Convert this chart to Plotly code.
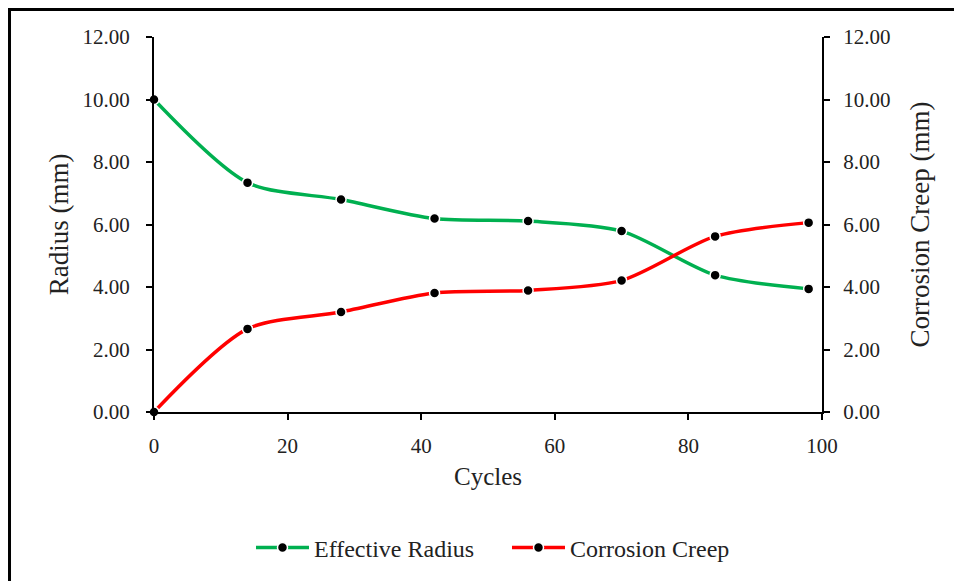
import plotly.graph_objects as go

cycles = [0, 14, 28, 42, 56, 70, 84, 98]
effective_radius = [10.0, 7.34, 6.80, 6.19, 6.11, 5.79, 4.38, 3.94]
corrosion_creep = [0.0, 2.66, 3.20, 3.81, 3.89, 4.21, 5.62, 6.06]
y_ticks = [0, 2, 4, 6, 8, 10, 12]
x_ticks = [0, 20, 40, 60, 80, 100]

FONT = "Liberation Serif, Times New Roman, serif"
GREEN = "#00B050"
RED = "#FF0000"

fig = go.Figure()
fig.add_trace(go.Scatter(
    x=cycles, y=effective_radius, name="Effective Radius",
    mode="lines+markers", line=dict(color=GREEN, width=3.5, shape="spline", smoothing=0.8),
    marker=dict(color="black", size=10, line=dict(color="white", width=1.5)),
    xaxis="x", yaxis="y", cliponaxis=False))
fig.add_trace(go.Scatter(
    x=cycles, y=corrosion_creep, name="Corrosion Creep",
    mode="lines+markers", line=dict(color=RED, width=3.5, shape="spline", smoothing=0.8),
    marker=dict(color="black", size=10, line=dict(color="white", width=1.5)),
    xaxis="x", yaxis="y2", cliponaxis=False))

tickfont = dict(family=FONT, size=21, color="#222")
common_y = dict(range=[0, 12], tickvals=y_ticks, tickformat=".2f", showgrid=False,
                zeroline=False, showline=True, linecolor="black", linewidth=2,
                ticks="outside", ticklen=6, tickwidth=2, tickcolor="black",
                tickfont=tickfont)

fig.update_layout(
    width=962, height=581,
    margin=dict(l=146, r=148, t=29, b=177),
    paper_bgcolor="white", plot_bgcolor="white",
    xaxis=dict(range=[0, 100], tickvals=x_ticks, showgrid=False, zeroline=False,
               showline=True, linecolor="black", linewidth=2,
               ticks="outside", ticklen=6, tickwidth=2, tickcolor="black",
               tickfont=tickfont, ticklabelstandoff=8,
               title=dict(text="Cycles", font=dict(family=FONT, size=25, color="#222"), standoff=10)),
    yaxis=dict(**common_y, side="left", ticklabelstandoff=12,
               title=dict(text="Radius (mm)", font=dict(family=FONT, size=27, color="#222"), standoff=6)),
    yaxis2=dict(**common_y, side="right", overlaying="y", anchor="x", ticklabelstandoff=9,
                title=dict(text="Corrosion Creep (mm)", font=dict(family=FONT, size=27, color="#222"), standoff=21)),
    # inner halves of the crossing tick marks
    xaxis2=dict(range=[0, 100], tickvals=x_ticks, overlaying="x", side="bottom",
                showgrid=False, zeroline=False, showline=False, showticklabels=False,
                ticks="inside", ticklen=6, tickwidth=2, tickcolor="black", anchor="y"),
    yaxis3=dict(range=[0, 12], tickvals=y_ticks, overlaying="y", side="left",
                showgrid=False, zeroline=False, showline=False, showticklabels=False,
                ticks="inside", ticklen=6, tickwidth=2, tickcolor="black", anchor="x"),
    yaxis4=dict(range=[0, 12], tickvals=y_ticks, overlaying="y", side="right",
                showgrid=False, zeroline=False, showline=False, showticklabels=False,
                ticks="inside", ticklen=6, tickwidth=2, tickcolor="black", anchor="x"),
    showlegend=True,
    legend=dict(orientation="h", x=0.1452, xanchor="left", y=-0.3627, yanchor="middle",
                font=dict(family=FONT, size=24, color="#222"), itemwidth=53,
                entrywidth=188, entrywidthmode="pixels",
                bgcolor="rgba(0,0,0,0)"),
    shapes=[dict(type="rect", xref="paper", yref="paper",
                 x0=-0.2163, x1=1.5, y0=-1.0, y1=1.0733,
                 line=dict(color="black", width=3), layer="below")],
)

fig.write_html("out.html")
